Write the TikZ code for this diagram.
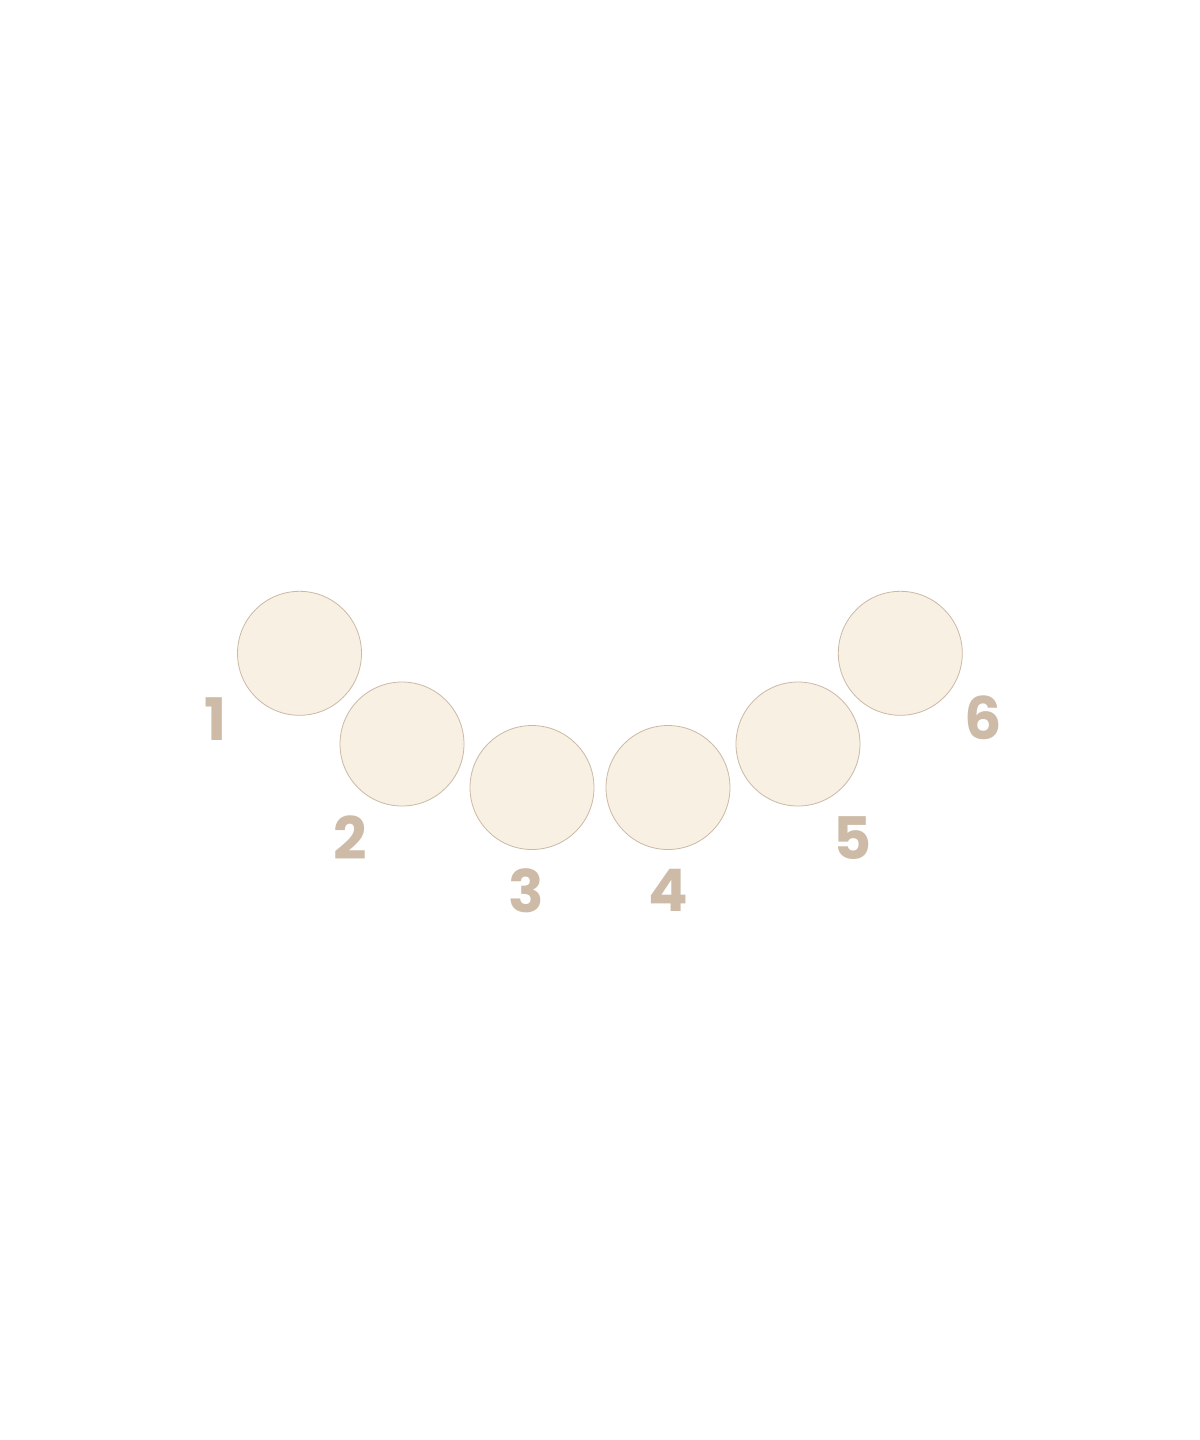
\documentclass[tikz,border=0pt]{standalone}
\usepackage{fontspec}
\setmainfont{Poppins}
\definecolor{discfill}{HTML}{F8F0E3}
\definecolor{discline}{HTML}{CBB9A6}
\definecolor{numcol}{HTML}{CDBBA8}
\begin{document}
\begin{tikzpicture}[x=0.75pt,y=-0.75pt,
  disc/.style={circle,draw=discline,line width=0.6pt,fill=discfill,minimum size=93pt,inner sep=0pt},
  num/.style={text=numcol,font=\fontsize{44}{44}\selectfont\bfseries,inner sep=0pt}]
\useasboundingbox[fill=white] (0,0) rectangle (1200,1440);
\node[disc] (c1) at (299.5,653.3) {};
\node[disc] (c2) at (402,744) {};
\node[disc] (c3) at (532,787.5) {};
\node[disc] (c4) at (668,787.5) {};
\node[disc] (c5) at (798,744) {};
\node[disc] (c6) at (900.3,653.3) {};
\node[num] (n1) at (216,719) {1};
\node[num] (n2) at (350.5,838) {2};
\node[num] (n3) at (526,890.5) {3};
\node[num] (n4) at (668,890.5) {4};
\node[num] (n5) at (853,838) {5};
\node[num] (n6) at (983,717.7) {6};
\end{tikzpicture}
\end{document}
